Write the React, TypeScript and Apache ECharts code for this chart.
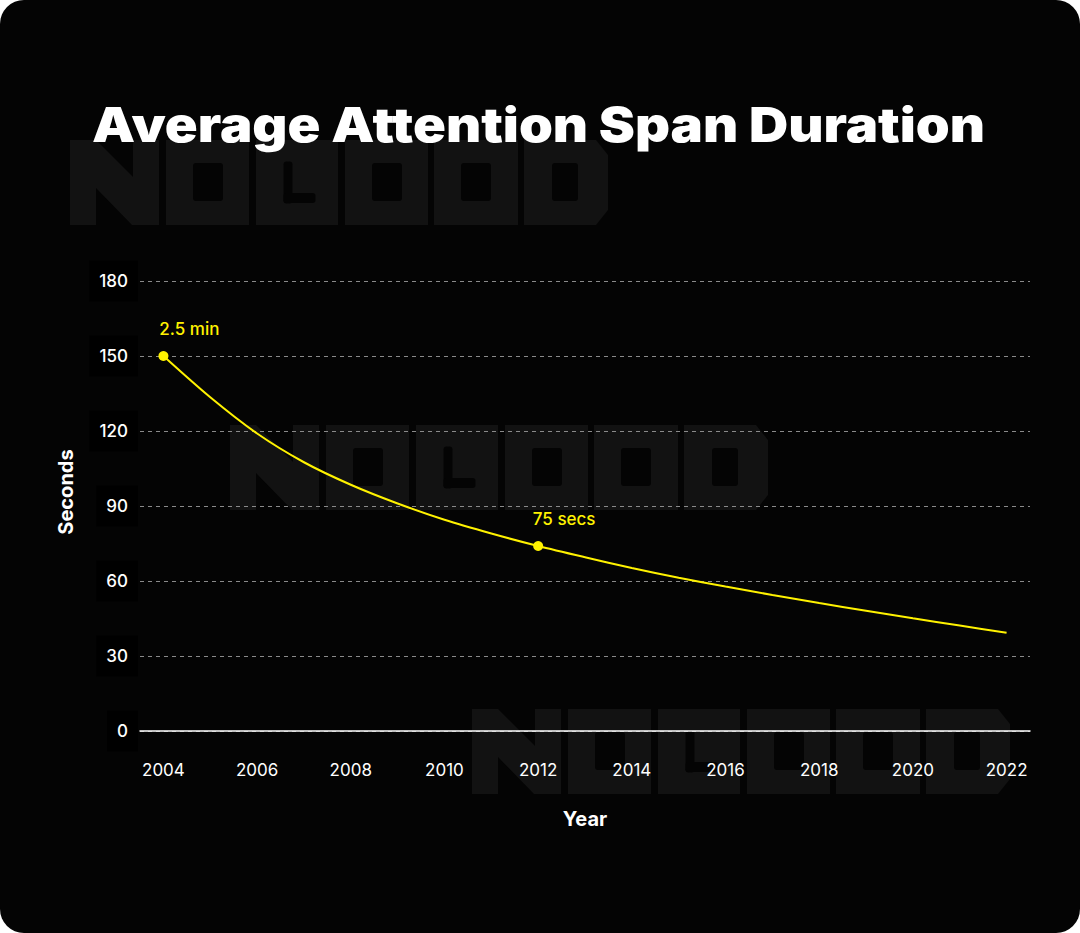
import React, { useEffect, useRef } from "react";
import * as echarts from "echarts";

const years = ["2004","2005","2006","2007","2008","2009","2010","2011","2012","2013","2014","2015","2016","2017","2018","2019","2020","2021","2022"];
const seconds = [150, 133.5, 119, 107.5, 98.5, 91, 84.5, 79, 74, 69.5, 65.2, 61.3, 57.8, 54.4, 51.2, 48.1, 45.1, 42.2, 39.3];
const annotatedYears = ["2004", "2012"];
const annotations = ["2.5 min", "75 secs"];
const titleText = "Average Attention Span Duration";

const YELLOW = "#fff200";
const BG = "#040404";
const WM = "#121212";

function measure(text: string, font: string): number {
  const c = document.createElement("canvas").getContext("2d");
  if (!c) return text.length * 28;
  c.font = font;
  return c.measureText(text).width;
}

// Blocky "NOGOOD" watermark built from simple shapes (local coordinates, 538x85 box)
function watermark(x: number, y: number) {
  const fill = { fill: WM };
  const hole = { fill: BG };
  const H = 85;
  const children: any[] = [
    // N
    {
      type: "polygon",
      shape: {
        points: [
          [0, 0], [26, 0], [63, 37], [63, 0], [89, 0], [89, H],
          [62, H], [26, 48], [26, H], [0, H],
        ],
      },
      style: fill,
    },
  ];
  const block = (lx: number, w: number) => ({ type: "rect", shape: { x: lx, y: 0, width: w, height: H }, style: fill });
  const holeRect = (lx: number, ly: number, w: number, h: number) => ({
    type: "rect",
    shape: { x: lx, y: ly, width: w, height: h, r: 3 },
    style: hole,
  });
  // O
  children.push(block(96, 83), holeRect(96 + 27, 23, 30, 38));
  // G
  children.push(block(186, 82), holeRect(186 + 27.5, 21.5, 9, 42), holeRect(186 + 27.5, 53, 32, 10));
  // O
  children.push(block(275, 83), holeRect(275 + 27, 23, 30, 38));
  // O
  children.push(block(364, 84), holeRect(364 + 27, 23, 30, 38));
  // D (chamfered right corners)
  children.push(
    {
      type: "polygon",
      shape: {
        points: [
          [454, 0], [526, 0], [538, 15], [538, 70], [526, H], [454, H],
        ],
      },
      style: fill,
    },
    holeRect(454 + 28, 23, 26, 38)
  );
  return { type: "group", x, y, z: -10, silent: true, children };
}

export default function App() {
  const ref = useRef<HTMLDivElement>(null);
  useEffect(() => {
    document.body.style.margin = "0";
    document.body.style.background = "#ffffff";
    const chart = echarts.init(ref.current!, null, { renderer: "svg" });

    const titleFont = '900 48px Inter';
    const titleW = measure(titleText, titleFont);

    const data = seconds.map((v, i) => {
      const k = annotatedYears.indexOf(years[i]);
      if (k >= 0) {
        return {
          value: v,
          symbol: "circle",
          symbolSize: 10,
          label: {
            show: true,
            formatter: annotations[k],
            position: "top",
            distance: 14,
            offset: [26, 0],
            color: YELLOW,
            fontSize: 17,
            fontWeight: 500,
            fontFamily: "Inter",
          },
        };
      }
      return { value: v, symbol: "none" };
    });

    chart.setOption({
      animation: false,
      backgroundColor: "transparent",
      graphic: [
        watermark(70, 140),
        watermark(230, 425),
        watermark(472, 709),
        {
          type: "text",
          x: 92,
          y: 124,
          scaleX: 893 / titleW,
          z: 10,
          style: {
            x: 0,
            y: 0,
            text: titleText,
            fill: "#ffffff",
            font: titleFont,
            align: "left",
            verticalAlign: "middle",
          },
        },
      ],
      grid: { left: 140, right: 50, top: 281, bottom: 202 },
      xAxis: {
        type: "category",
        data: years,
        boundaryGap: true,
        name: "Year",
        nameLocation: "middle",
        nameGap: 78,
        nameTextStyle: { color: "#fff", fontSize: 20, fontWeight: "bold", fontFamily: "Inter" },
        axisLine: { lineStyle: { color: "#ffffff", width: 1.5 } },
        axisTick: { show: false },
        axisLabel: { interval: 1, color: "#fff", fontSize: 17, margin: 30, fontFamily: "Inter" },
      },
      yAxis: {
        type: "value",
        min: 0,
        max: 180,
        interval: 30,
        name: "Seconds",
        nameLocation: "middle",
        nameRotate: 90,
        nameGap: 64,
        nameTextStyle: {
          color: "#fff",
          fontSize: 20,
          fontWeight: "bold",
          fontFamily: "Inter",
          padding: [0, 0, 0, 28],
        },
        axisLine: { show: false },
        axisTick: { show: false },
        axisLabel: {
          color: "#fff",
          fontSize: 17,
          fontWeight: 500,
          fontFamily: "Inter",
          margin: 2,
          backgroundColor: "#000000",
          padding: [12, 10, 12, 10],
        },
        splitLine: { lineStyle: { color: "#8a8a8a", type: [4, 4], width: 1 } },
      },
      series: [
        {
          type: "line",
          data,
          smooth: 0.3,
          showSymbol: true,
          lineStyle: { color: YELLOW, width: 2 },
          itemStyle: { color: YELLOW },
          z: 5,
        },
      ],
    });
    return () => chart.dispose();
  }, []);
  return (
    <div
      ref={ref}
      style={{
        position: "absolute",
        left: 0,
        top: 0,
        width: 1080,
        height: 933,
        background: BG,
        borderRadius: 24,
        overflow: "hidden",
      }}
    />
  );
}
